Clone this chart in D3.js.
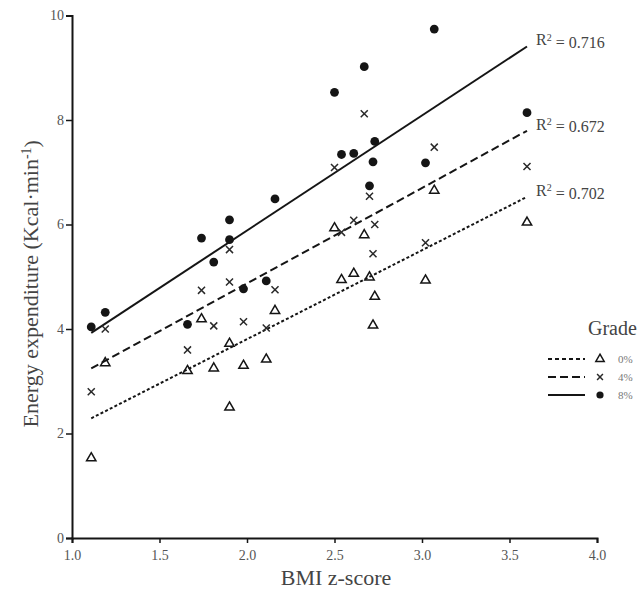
<!DOCTYPE html>
<html>
<head>
<meta charset="utf-8">
<script src="https://cdn.jsdelivr.net/npm/d3@7"></script>
<style>
body { margin: 0; background: #fff; }
svg { display: block; font-family: "Liberation Serif", "Times New Roman", serif; }
</style>
</head>
<body>
<svg width="640" height="595"></svg>
<script>
// same 20 children at each grade, sorted by BMI z-score
const bmiZ = [1.11, 1.19, 1.66, 1.74, 1.81, 1.90, 1.90, 1.98, 2.11, 2.16,
              2.50, 2.54, 2.61, 2.67, 2.70, 2.72, 2.73, 3.02, 3.07, 3.60];
const grade0 = [1.53, 3.35, 3.20, 4.19, 3.25, 3.72, 2.50, 3.30, 3.42, 4.35,
                5.93, 4.94, 5.06, 5.80, 4.99, 4.07, 4.62, 4.93, 6.65, 6.04];
const grade4 = [2.80, 4.00, 3.60, 4.74, 4.06, 4.90, 5.52, 4.14, 4.02, 4.75,
                7.09, 5.85, 6.08, 8.12, 6.54, 5.44, 6.00, 5.65, 7.48, 7.11];
const grade8 = [4.04, 4.32, 4.09, 5.74, 5.28, 6.09, 5.71, 4.77, 4.92, 6.49,
                8.53, 7.34, 7.36, 9.02, 6.74, 7.20, 7.59, 7.18, 9.74, 8.14];
const gradeLabels = ["0%", "4%", "8%"];
const rSquared = ["0.702", "0.672", "0.716"];
const xTicks = [1.0, 1.5, 2.0, 2.5, 3.0, 3.5, 4.0];
const yTicks = [0, 2, 4, 6, 8, 10];

const svg = d3.select("svg");
const x = d3.scaleLinear().domain([1, 4]).range([72, 597]);
const y = d3.scaleLinear().domain([0, 10]).range([538, 15.5]);

const ink = "#151515";
const textColor = "#444";

const series = [
    { label: gradeLabels[0], values: grade0, r2: rSquared[0], dash: "3,2.2", marker: "triangle" },
    { label: gradeLabels[1], values: grade4, r2: rSquared[1], dash: "8,4", marker: "cross" },
    { label: gradeLabels[2], values: grade8, r2: rSquared[2], dash: null, marker: "circle" }
];

// least squares fit
function fitLine(xs, ys) {
    const mx = d3.mean(xs), my = d3.mean(ys);
    let sxy = 0, sxx = 0;
    for (let i = 0; i < xs.length; i++) {
        sxy += (xs[i] - mx) * (ys[i] - my);
        sxx += (xs[i] - mx) * (xs[i] - mx);
    }
    const b = sxy / sxx;
    return v => my + b * (v - mx);
}

function drawMarker(g, type, cx, cy, small) {
    if (type === "circle") {
        g.append("circle").attr("cx", cx).attr("cy", cy).attr("r", small ? 3.6 : 4.4).attr("fill", ink);
    } else if (type === "triangle") {
        g.append("path")
            .attr("d", d3.symbol(d3.symbolTriangle, small ? 30 : 38)())
            .attr("transform", `translate(${cx},${cy})`)
            .attr("fill", "none").attr("stroke", ink).attr("stroke-width", 1.5);
    } else {
        g.append("path")
            .attr("d", d3.symbol(d3.symbolTimes, small ? 24 : 34)())
            .attr("transform", `translate(${cx},${cy})`)
            .attr("fill", "none").attr("stroke", "#2a2a2a").attr("stroke-width", 1.5);
    }
}

// axes
const xAxis = svg.append("g")
    .attr("transform", `translate(0,${y(0)})`)
    .call(d3.axisBottom(x).tickValues(xTicks).tickFormat(d3.format(".1f")).tickSize(5).tickPadding(7));
const yAxis = svg.append("g")
    .attr("transform", `translate(${x(1)},0)`)
    .call(d3.axisLeft(y).tickValues(yTicks).tickSize(6).tickPadding(2));

[xAxis, yAxis].forEach(a => {
    a.select(".domain").attr("stroke", ink).attr("stroke-width", 2);
    a.selectAll(".tick line").attr("stroke", ink).attr("stroke-width", 1.5);
    a.selectAll(".tick text").attr("fill", "#555").style("font-family", "Liberation Serif").style("font-size", "14px");
});

svg.append("text")
    .attr("x", 336).attr("y", 585)
    .attr("text-anchor", "middle")
    .attr("fill", textColor)
    .style("font-size", "22px")
    .text("BMI z-score");

const yTitle = svg.append("text")
    .attr("transform", `translate(38,${y(5) + 7}) rotate(-90)`)
    .attr("text-anchor", "middle")
    .attr("fill", textColor)
    .style("font-size", "22px");
yTitle.append("tspan").text("Energy expenditure (Kcal\u00b7min");
yTitle.append("tspan").attr("dy", "-0.5em").style("font-size", "14px").text("-1");
yTitle.append("tspan").attr("dy", "0.35em").text(")");

// fit lines and points
const plot = svg.append("g");
const xMin = d3.min(bmiZ), xMax = d3.max(bmiZ);
series.forEach(s => {
    const f = fitLine(bmiZ, s.values);
    plot.append("line")
        .attr("x1", x(xMin)).attr("y1", y(f(xMin)))
        .attr("x2", x(xMax)).attr("y2", y(f(xMax)))
        .attr("stroke", ink)
        .attr("stroke-width", 2)
        .attr("stroke-dasharray", s.dash);

    const lab = svg.append("text")
        .attr("x", x(xMax) + 9).attr("y", y(f(xMax)) - 1)
        .attr("fill", textColor)
        .style("font-size", "16px");
    lab.append("tspan").text("R");
    lab.append("tspan").attr("dy", "-0.45em").style("font-size", "10px").text("2");
    lab.append("tspan").attr("dy", "0.45em").text(" = " + s.r2);
});

series.forEach(s => {
    bmiZ.forEach((b, i) => drawMarker(plot, s.marker, x(b), y(s.values[i]), false));
});

// legend
const legend = svg.append("g");
legend.append("text")
    .attr("x", 588).attr("y", 335)
    .attr("fill", textColor)
    .style("font-size", "20px")
    .text("Grade");
series.forEach((s, i) => {
    const ly = 359 + i * 18;
    legend.append("line")
        .attr("x1", 548).attr("x2", 585).attr("y1", ly).attr("y2", ly)
        .attr("stroke", ink).attr("stroke-width", 2)
        .attr("stroke-dasharray", i === 0 ? "4,3" : s.dash);
    drawMarker(legend, s.marker, 600, ly, true);
    legend.append("text")
        .attr("x", 618).attr("y", ly + 4)
        .attr("fill", "#777")
        .style("font-size", "11px")
        .text(s.label);
});
</script>
</body>
</html>
